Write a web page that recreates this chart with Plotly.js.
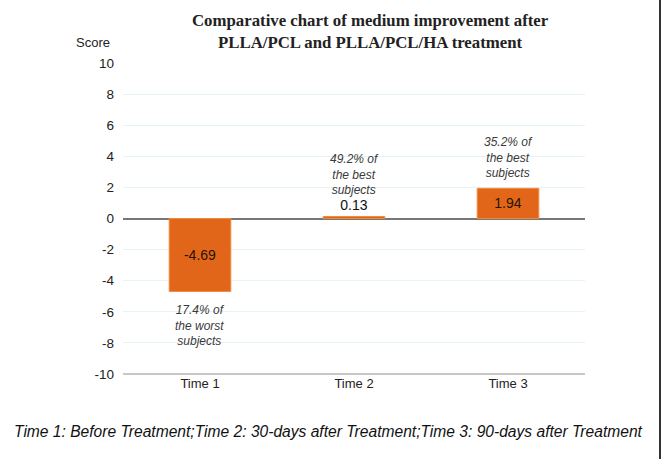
<!DOCTYPE html>
<html>
<head>
<meta charset="utf-8">
<script src="https://cdn.plot.ly/plotly-3.0.1.min.js"></script>
<style>
html,body{margin:0;padding:0;background:#fff;}
#chart{width:664px;height:459px;}
</style>
</head>
<body>
<div id="chart"></div>
<script>
const categories = ["Time 1", "Time 2", "Time 3"];
const scores = [-4.69, 0.13, 1.94];
const valueLabels = ["-4.69", "0.13", "1.94"];
const notes = ["17.4% of<br>the worst<br>subjects", "49.2% of<br>the best<br>subjects", "35.2% of<br>the best<br>subjects"];
const yTicks = [-10, -8, -6, -4, -2, 0, 2, 4, 6, 8, 10];
const titleText = "Comparative chart of medium improvement after<br>PLLA/PCL and PLLA/PCL/HA treatment";
const captionText = "Time 1: Before Treatment;Time 2: 30-days after Treatment;Time 3: 90-days after Treatment";

const trace = {
  type: "bar",
  x: categories,
  y: scores,
  width: 0.4,
  text: valueLabels,
  textposition: ["inside", "outside", "inside"],
  insidetextanchor: "middle",
  textangle: 0,
  constraintext: "none",
  cliponaxis: false,
  textfont: {family: "Liberation Sans, Arial, sans-serif", size: 14, color: ["#2a1200", "#111", "#2a1200"]},
  marker: {color: "#E2661A", line: {color: "#F08A3A", width: 1}},
  hoverinfo: "x+y"
};

const annotations = [];
categories.forEach((c, i) => {
  const v = scores[i];
  let yshift;
  if (v < 0) yshift = -10;
  else if (i === 1) yshift = 17;
  else yshift = 6;
  annotations.push({
    x: c, y: v, xref: "x", yref: "y",
    text: notes[i], showarrow: false,
    yanchor: v < 0 ? "top" : "bottom",
    yshift: yshift,
    align: "center",
    font: {family: "Liberation Sans, Arial, sans-serif", size: 12, color: "#3a3a3a", style: "italic"}
  });
});
annotations.push({
  xref: "paper", yref: "paper", x: 0.535, y: 1.10,
  text: titleText, showarrow: false, xanchor: "center", yanchor: "middle",
  align: "center",
  font: {family: "Liberation Serif, DejaVu Serif, serif", size: 16.8, color: "#222", weight: "bold"}
});
annotations.push({
  xref: "paper", yref: "paper", x: -0.065, y: 1.0675,
  text: "Score", showarrow: false, xanchor: "center", yanchor: "middle",
  font: {family: "Liberation Sans, Arial, sans-serif", size: 13, color: "#222"}
});
annotations.push({
  xref: "paper", yref: "paper", x: 0.445, y: -0.186,
  text: captionText, showarrow: false, xanchor: "center", yanchor: "middle",
  font: {family: "Liberation Sans, Arial, sans-serif", size: 15.6, color: "#111", style: "italic"}
});

const layout = {
  width: 664, height: 459,
  margin: {l: 123, r: 79, t: 63, b: 85},
  paper_bgcolor: "#fff", plot_bgcolor: "#fff",
  showlegend: false,
  xaxis: {
    type: "category",
    range: [-0.5, 2.5],
    showgrid: false, zeroline: false, showline: false,
    ticks: "",
    tickfont: {family: "Liberation Sans, Arial, sans-serif", size: 13, color: "#222"},
    fixedrange: true
  },
  yaxis: {
    range: [-10, 10],
    tickvals: yTicks,
    ticktext: yTicks.map(String),
    showgrid: true, gridcolor: "#e6f3f3", gridwidth: 1,
    zeroline: true, zerolinecolor: "#777", zerolinewidth: 2,
    showline: false, ticks: "",
    ticklabelstandoff: 8,
    tickfont: {family: "Liberation Sans, Arial, sans-serif", size: 13.5, color: "#222"},
    fixedrange: true
  },
  shapes: [
    {type: "line", xref: "paper", yref: "paper", x0: 0, x1: 1, y0: 0, y1: 0,
     line: {color: "#c8c8c8", width: 2}},
    {type: "line", xref: "paper", yref: "paper", x0: (660 - 123) / 462, x1: (660 - 123) / 462,
     y0: 374 / 311, y1: (374 - 459) / 311,
     line: {color: "#333", width: 2}}
  ],
  annotations: annotations
};

Plotly.newPlot("chart", [trace], layout, {displayModeBar: false, staticPlot: true});
</script>
</body>
</html>
